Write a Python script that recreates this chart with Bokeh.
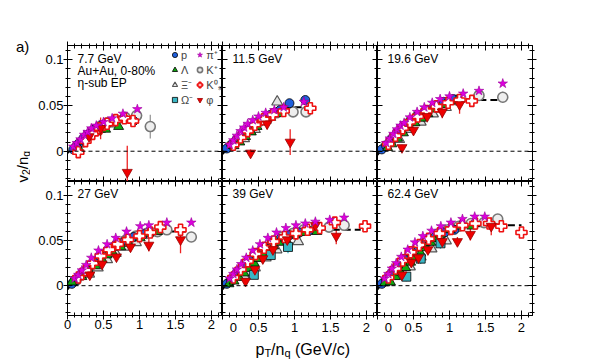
import numpy as np
from bokeh.plotting import figure
from bokeh.models import (Range1d, Span, Label, Legend, LegendItem, LinearAxis,
                          SingleIntervalTicker, CustomJSTickFormatter)
from bokeh.layouts import gridplot, row, column
from bokeh.embed import file_html
from bokeh.resources import INLINE

# ---------------- data ----------------
energies = ["7.7 GeV", "11.5 GeV", "19.6 GeV", "27 GeV", "39 GeV", "62.4 GeV"]

fit_x = [
    [0, 0.1, 0.2, 0.3, 0.4, 0.5, 0.6, 0.7, 0.8, 0.9, 1.0, 1.06],
    [0, 0.1, 0.2, 0.3, 0.4, 0.5, 0.6, 0.7, 0.8, 0.9, 1.0, 1.1],
    [0, 0.1, 0.2, 0.3, 0.4, 0.5, 0.6, 0.7, 0.8, 0.9, 1.0, 1.2, 1.4, 1.6, 1.7],
    [0, 0.1, 0.2, 0.3, 0.4, 0.5, 0.6, 0.7, 0.8, 0.9, 1.0, 1.2, 1.4, 1.6, 1.65],
    [0, 0.1, 0.2, 0.3, 0.4, 0.5, 0.6, 0.7, 0.8, 0.9, 1.0, 1.2, 1.4, 1.6, 1.8, 1.92],
    [0, 0.1, 0.2, 0.3, 0.4, 0.5, 0.6, 0.7, 0.8, 0.9, 1.0, 1.2, 1.4, 1.6, 1.8, 2.0],
]
fit_y = [
    [-0.002, 0.006, 0.013, 0.019, 0.024, 0.028, 0.031, 0.034, 0.036, 0.037, 0.037, 0.037],
    [-0.003, 0.005, 0.013, 0.020, 0.027, 0.033, 0.038, 0.042, 0.045, 0.047, 0.048, 0.048],
    [-0.004, 0.006, 0.015, 0.023, 0.030, 0.036, 0.041, 0.045, 0.048, 0.051, 0.053, 0.055, 0.056, 0.056, 0.056],
    [-0.004, 0.006, 0.015, 0.024, 0.032, 0.038, 0.044, 0.048, 0.052, 0.055, 0.057, 0.059, 0.060, 0.060, 0.060],
    [-0.004, 0.006, 0.016, 0.025, 0.033, 0.040, 0.045, 0.050, 0.053, 0.056, 0.058, 0.061, 0.062, 0.062, 0.062, 0.062],
    [-0.004, 0.006, 0.016, 0.026, 0.034, 0.041, 0.047, 0.052, 0.056, 0.059, 0.062, 0.065, 0.066, 0.067, 0.067, 0.067],
]

pion_x = [
    [0.08, 0.13, 0.18, 0.23, 0.28, 0.33, 0.40, 0.50, 0.62, 0.77, 0.97],
    [0.10, 0.15, 0.20, 0.25, 0.30, 0.35, 0.42, 0.50, 0.60, 0.72, 0.85, 1.13],
    [0.12, 0.17, 0.22, 0.27, 0.32, 0.37, 0.45, 0.55, 0.65, 0.76, 0.87, 1.00, 1.19, 1.41, 1.74],
    [0.10, 0.15, 0.20, 0.26, 0.33, 0.43, 0.55, 0.67, 0.82, 1.01, 1.13, 1.38, 1.72],
    [0.10, 0.15, 0.20, 0.26, 0.33, 0.42, 0.52, 0.63, 0.75, 0.88, 1.02, 1.15, 1.29, 1.49, 1.69],
    [0.10, 0.15, 0.20, 0.26, 0.33, 0.42, 0.52, 0.63, 0.75, 0.88, 1.02, 1.18, 1.35, 1.49],
]
pion_y = [
    [0.005, 0.009, 0.013, 0.018, 0.021, 0.025, 0.028, 0.032, 0.036, 0.041, 0.046],
    [0.007, 0.012, 0.017, 0.022, 0.026, 0.030, 0.034, 0.038, 0.042, 0.045, 0.048, 0.054],
    [0.009, 0.014, 0.019, 0.024, 0.028, 0.031, 0.037, 0.043, 0.048, 0.053, 0.057, 0.060, 0.063, 0.066, 0.074],
    [0.008, 0.012, 0.017, 0.023, 0.031, 0.039, 0.046, 0.053, 0.060, 0.066, 0.067, 0.070, 0.070],
    [0.008, 0.013, 0.018, 0.024, 0.031, 0.039, 0.046, 0.053, 0.059, 0.064, 0.067, 0.069, 0.071, 0.073, 0.0755],
    [0.008, 0.013, 0.019, 0.025, 0.032, 0.040, 0.048, 0.055, 0.061, 0.066, 0.070, 0.074, 0.0766, 0.0766],
]

kaon_x = [
    [0.12, 0.20, 0.28, 0.36, 0.45, 0.55, 0.67, 0.80, 0.96, 1.15],
    [0.12, 0.20, 0.30, 0.40, 0.50, 0.62, 0.75, 0.98, 1.16],
    [0.12, 0.20, 0.28, 0.37, 0.46, 0.56, 0.67, 0.80, 0.95, 1.10, 1.41, 1.74],
    [0.12, 0.20, 0.28, 0.37, 0.47, 0.57, 0.68, 0.80, 0.95, 1.10, 1.25, 1.38, 1.72],
    [0.12, 0.20, 0.28, 0.37, 0.47, 0.58, 0.70, 0.83, 0.98, 1.13, 1.30, 1.48, 1.69],
    [0.12, 0.20, 0.28, 0.37, 0.47, 0.58, 0.70, 0.83, 0.98, 1.13, 1.30, 1.48, 1.67],
]
kaon_y = [
    [0.004, 0.010, 0.017, 0.022, 0.027, 0.031, 0.034, 0.037, 0.039, 0.027],
    [0.006, 0.012, 0.019, 0.026, 0.032, 0.037, 0.042, 0.043, 0.043],
    [0.006, 0.013, 0.020, 0.027, 0.033, 0.039, 0.044, 0.049, 0.053, 0.056, 0.061, 0.059],
    [0.006, 0.012, 0.019, 0.026, 0.033, 0.039, 0.045, 0.050, 0.055, 0.058, 0.060, 0.062, 0.054],
    [0.006, 0.013, 0.020, 0.028, 0.035, 0.042, 0.048, 0.054, 0.058, 0.062, 0.064, 0.065, 0.067],
    [0.006, 0.013, 0.021, 0.029, 0.037, 0.044, 0.051, 0.057, 0.062, 0.066, 0.069, 0.070, 0.074],
]
kaon_err = [
    [0.001, 0.001, 0.001, 0.002, 0.002, 0.002, 0.003, 0.003, 0.005, 0.013],
    [0.001, 0.001, 0.001, 0.002, 0.002, 0.002, 0.003, 0.003, 0.004],
    [0.001, 0.001, 0.001, 0.001, 0.002, 0.002, 0.002, 0.002, 0.003, 0.003, 0.003, 0.006],
    [0.001, 0.001, 0.001, 0.001, 0.002, 0.002, 0.002, 0.002, 0.003, 0.003, 0.003, 0.003, 0.004],
    [0.001, 0.001, 0.001, 0.001, 0.002, 0.002, 0.002, 0.002, 0.003, 0.003, 0.003, 0.003, 0.004],
    [0.001, 0.001, 0.001, 0.001, 0.002, 0.002, 0.002, 0.002, 0.003, 0.003, 0.003, 0.003, 0.004],
]

k0s_x = [
    [0.15, 0.25, 0.35, 0.45, 0.55, 0.67, 0.79, 0.91],
    [0.15, 0.25, 0.35, 0.45, 0.57, 0.70, 0.85, 1.22],
    [0.15, 0.25, 0.35, 0.45, 0.56, 0.68, 0.82, 0.98, 1.14, 1.31],
    [0.15, 0.25, 0.35, 0.46, 0.58, 0.70, 0.84, 1.00, 1.15, 1.29, 1.57],
    [0.15, 0.25, 0.35, 0.46, 0.58, 0.71, 0.86, 1.02, 1.18, 1.35, 1.56, 1.98],
    [0.15, 0.25, 0.35, 0.46, 0.58, 0.71, 0.86, 1.02, 1.18, 1.36, 1.55, 1.72, 2.00],
]
k0s_y = [
    [-0.001, 0.011, 0.019, 0.025, 0.030, 0.034, 0.036, 0.033],
    [0.007, 0.015, 0.022, 0.029, 0.035, 0.040, 0.044, 0.047],
    [0.008, 0.017, 0.025, 0.032, 0.038, 0.044, 0.049, 0.053, 0.056, 0.055],
    [0.009, 0.017, 0.025, 0.033, 0.040, 0.046, 0.051, 0.055, 0.059, 0.065, 0.062],
    [0.009, 0.018, 0.027, 0.035, 0.042, 0.049, 0.054, 0.058, 0.062, 0.064, 0.070, 0.066],
    [0.009, 0.019, 0.028, 0.037, 0.045, 0.052, 0.058, 0.063, 0.067, 0.069, 0.069, 0.066, 0.059],
]

proton_x = [
    [0.08, 0.15, 0.22, 0.30, 0.38, 0.47, 0.56, 0.66, 0.78, 0.92],
    [0.06, 0.12, 0.20, 0.28, 0.37, 0.46, 0.56, 0.67, 0.80, 0.93, 1.15],
    [0.06, 0.12, 0.20, 0.28, 0.37, 0.46, 0.56, 0.67, 0.79, 0.92, 1.05],
    [0.06, 0.12, 0.20, 0.28, 0.37, 0.46, 0.56, 0.67, 0.79, 0.92, 1.06],
    [0.06, 0.12, 0.20, 0.28, 0.37, 0.47, 0.57, 0.68, 0.80, 0.93, 1.07, 1.20],
    [0.06, 0.12, 0.20, 0.28, 0.37, 0.47, 0.57, 0.68, 0.80, 0.93, 1.07],
]
proton_y = [
    [0.002, 0.008, 0.014, 0.019, 0.024, 0.028, 0.031, 0.034, 0.036, 0.033],
    [0.003, 0.007, 0.013, 0.019, 0.025, 0.030, 0.035, 0.040, 0.045, 0.0525, 0.056],
    [0.002, 0.006, 0.013, 0.020, 0.027, 0.033, 0.039, 0.044, 0.049, 0.054, 0.057],
    [0.002, 0.006, 0.012, 0.019, 0.026, 0.032, 0.038, 0.044, 0.049, 0.054, 0.057],
    [0.002, 0.006, 0.013, 0.020, 0.028, 0.035, 0.041, 0.047, 0.052, 0.056, 0.059, 0.061],
    [0.002, 0.006, 0.013, 0.021, 0.029, 0.036, 0.043, 0.049, 0.054, 0.059, 0.062],
]

lambda_x = [
    [0.15, 0.22, 0.30, 0.40, 0.53, 0.71],
    [0.16, 0.24, 0.32, 0.40, 0.48, 0.57, 0.67, 0.78],
    [0.14, 0.20, 0.28, 0.36, 0.44, 0.52, 0.61, 0.70, 0.80, 0.94, 1.10],
    [0.06, 0.20, 0.30, 0.39, 0.48, 0.55, 0.62, 0.74, 0.85, 1.01, 1.13, 1.25],
    [0.09, 0.16, 0.23, 0.30, 0.37, 0.44, 0.50, 0.57, 0.64, 0.71, 0.78, 0.88, 1.01, 1.15, 1.31],
    [0.10, 0.18, 0.25, 0.32, 0.39, 0.46, 0.53, 0.60, 0.67, 0.74, 0.81, 0.875, 1.01, 1.15, 1.31],
]
lambda_y = [
    [0.004, 0.011, 0.016, 0.021, 0.024, 0.027],
    [0.006, 0.010, 0.016, 0.021, 0.027, 0.032, 0.037, 0.041],
    [0.004, 0.008, 0.014, 0.020, 0.026, 0.031, 0.036, 0.041, 0.046, 0.051, 0.055],
    [0.004, 0.010, 0.016, 0.022, 0.029, 0.034, 0.038, 0.043, 0.047, 0.053, 0.058, 0.060],
    [0.002, 0.005, 0.009, 0.014, 0.019, 0.025, 0.030, 0.035, 0.040, 0.044, 0.048, 0.052, 0.057, 0.059, 0.060],
    [0.003, 0.004, 0.010, 0.015, 0.020, 0.026, 0.031, 0.036, 0.042, 0.048, 0.052, 0.057, 0.062, 0.066, 0.066],
]

xi_x = [
    [0.30, 0.45, 0.62],
    [0.30, 0.45, 0.60, 0.76],
    [0.30, 0.45, 0.60, 0.77, 0.95],
    [0.30, 0.42, 0.55, 0.67, 0.80, 0.95],
    [0.30, 0.45, 0.60, 0.75, 1.05],
    [0.30, 0.45, 0.60, 0.75, 0.95],
]
xi_y = [
    [0.017, 0.024, 0.030],
    [0.014, 0.024, 0.034, 0.054],
    [0.013, 0.024, 0.032, 0.041, 0.048],
    [0.013, 0.020, 0.029, 0.036, 0.043, 0.048],
    [0.011, 0.020, 0.031, 0.040, 0.049],
    [0.011, 0.021, 0.032, 0.041, 0.050],
]

omega_x = [[], [], [], [], [0.435, 0.67, 0.91], [0.40, 0.60, 0.875]]
omega_y = [[], [], [], [], [0.012, 0.034, 0.043], [0.010, 0.030, 0.047]]
omega_err = [[], [], [], [], [0.004, 0.005, 0.007], [0.005, 0.006, 0.006]]

phi_x = [
    [0.30, 0.46, 0.83],
    [0.39, 0.62, 0.94],
    [0.34, 0.50, 0.69, 0.90, 1.14],
    [0.31, 0.48, 0.68, 0.875, 1.13, 1.57],
    [0.32, 0.45, 0.56, 0.70, 0.90, 1.29, 1.58],
    [0.34, 0.47, 0.57, 0.70, 0.90, 1.11, 1.29, 1.58],
]
phi_y = [
    [0.016, 0.025, -0.023],
    [-0.002, 0.030, 0.010],
    [0.004, 0.023, 0.038, 0.043, 0.051],
    [0.012, 0.024, 0.032, 0.043, 0.045, 0.051],
    [0.005, 0.018, 0.030, 0.040, 0.051, 0.067, 0.055],
    [0.012, 0.026, 0.031, 0.040, 0.049, 0.049, 0.057, 0.066],
]
phi_err = [
    [0.006, 0.012, 0.029],
    [0.004, 0.006, 0.014],
    [0.003, 0.004, 0.005, 0.007, 0.010],
    [0.003, 0.003, 0.004, 0.005, 0.007, 0.015],
    [0.003, 0.003, 0.004, 0.004, 0.005, 0.006, 0.009],
    [0.003, 0.003, 0.003, 0.004, 0.004, 0.005, 0.007, 0.010],
]

# ---------------- styling / geometry ----------------
FONT = "Liberation Sans"
XMAX = 2.153
YMIN, YMAX = -0.0331, 0.1156
FW, FH = 155, 136
LEFT_STRIP = 30
TOP = 45
BOTTOM = 20
XTITLE_H = 24


def px_x(px):
    return px / FW * XMAX


def px_y(px):  # pixels measured down from the frame top
    return YMAX - px / FH * (YMAX - YMIN)


LABEL_FMT = "return Number(tick.toFixed(3)).toString();"
SHIFTZERO_FMT = ("if (Math.abs(tick) < 1e-9) { return '\\u20070'; } "
                 "return Number(tick.toFixed(3)).toString();")
EMPTY_FMT = "return '';"


def add_axis(p, side, interval, fmt, outer):
    ax = LinearAxis(ticker=SingleIntervalTicker(interval=interval, num_minor_ticks=5),
                    formatter=CustomJSTickFormatter(code=fmt))
    ax.axis_line_color = "black"
    ax.axis_line_width = 1
    ax.major_tick_line_color = "black"
    ax.minor_tick_line_color = "black"
    ax.major_tick_in = 5
    ax.major_tick_out = 4 if outer else 0
    ax.minor_tick_in = 3
    ax.minor_tick_out = 2 if outer else 0
    ax.major_label_standoff = 0
    if fmt == EMPTY_FMT:
        ax.major_label_text_font_size = "0px"
    else:
        ax.major_label_text_font = FONT
        ax.major_label_text_font_size = "13px"
        ax.major_label_text_color = "black"
    p.add_layout(ax, side)


species = [
    # name, xs, ys, errs, marker, size, fill, line, lw, errcolor
    ("K⁺", kaon_x, kaon_y, kaon_err, "circle", 10, "#eeeeee", "#777777", 1.6, "#999999"),
    ("Ξ⁻", xi_x, xi_y, None, "triangle", 11, "#e4e4e4", "#555555", 1.2, None),
    ("p", proton_x, proton_y, None, "circle", 9, "#1f5fdc", "#000000", 0.8, None),
    ("Λ", lambda_x, lambda_y, None, "triangle", 10, "#0ea80e", "#000000", 0.8, None),
    ("Ω⁻", omega_x, omega_y, omega_err, "square", 9, "#3ab6c4", "#000000", 0.8, "#3ab6c4"),
    ("K⁰ₛ", k0s_x, k0s_y, None, "plus", 11, "#ffffff", "#ee1111", 1.6, None),
    ("φ", phi_x, phi_y, phi_err, "inverted_triangle", 10, "#ee0000", "#990000", 0.8, "#ee2222"),
    ("π⁺", pion_x, pion_y, None, "star", 10, "#dd00dd", "#990099", 0.6, None),
]

panels = []
for i in range(6):
    r, c = divmod(i, 3)
    left = 37 if c == 0 else 0
    right = 6 if c == 2 else 0
    top = TOP if r == 0 else 0
    bottom = BOTTOM if r == 1 else 0
    p = figure(width=FW + left + right, height=FH + top + bottom,
               x_range=Range1d(0, XMAX), y_range=Range1d(YMIN, YMAX),
               output_backend="svg", toolbar_location=None,
               x_axis_location=None, y_axis_location=None,
               min_border_left=left, min_border_right=right,
               min_border_top=top, min_border_bottom=bottom)
    p.grid.visible = False
    p.outline_line_color = "black"
    p.background_fill_color = "white"
    p.border_fill_color = "white"

    if r == 1:
        add_axis(p, "below", 0.5, LABEL_FMT if c == 0 else SHIFTZERO_FMT, True)
    else:
        add_axis(p, "below", 0.5, EMPTY_FMT, False)
    add_axis(p, "above", 0.5, EMPTY_FMT, r == 0)
    add_axis(p, "left", 0.05, LABEL_FMT if c == 0 else EMPTY_FMT, c == 0)
    add_axis(p, "right", 0.05, EMPTY_FMT, c == 2)

    p.add_layout(Span(location=0, dimension="width", line_color="black",
                      line_dash="4 3", line_width=1))

    for name, xs, ys, errs, marker, size, fill, line, lw, ecol in species:
        if errs is None or len(xs[i]) == 0:
            continue
        x = np.array(xs[i]); y = np.array(ys[i]); e = np.array(errs[i])
        p.segment(x0=x, y0=y - e, x1=x, y1=y + e, line_color=ecol, line_width=1.3)

    p.line(fit_x[i], fit_y[i], line_color="black", line_width=2, line_dash="7 4")

    legend_renderers = {}
    for name, xs, ys, errs, marker, size, fill, line, lw, ecol in species:
        rr = p.scatter(xs[i], ys[i], marker=marker, size=size, fill_color=fill,
                       line_color=line, line_width=lw)
        legend_renderers[name] = rr

    p.add_layout(Label(x=px_x(10), y=px_y(20), text=energies[i], text_font=FONT,
                       text_font_size="12px", text_color="black"))
    if i == 0:
        p.add_layout(Label(x=px_x(10), y=px_y(32), text="Au+Au,  0-80%", text_font=FONT,
                           text_font_size="12px", text_color="black"))
        p.add_layout(Label(x=px_x(10), y=px_y(44), text="η-sub EP", text_font=FONT,
                           text_font_size="12px", text_color="black"))
        # legend-only sample for species without points in this panel
        for name, xs, ys, errs, marker, size, fill, line, lw, ecol in species:
            if len(xs[i]) == 0:
                legend_renderers[name] = p.scatter([np.nan], [np.nan], marker=marker, size=size,
                                                   fill_color=fill, line_color=line, line_width=lw)
        order = ["p", "Λ", "Ξ⁻", "Ω⁻", "π⁺", "K⁺", "K⁰ₛ", "φ"]
        legend = Legend(items=[LegendItem(label=n, renderers=[legend_renderers[n]]) for n in order],
                        ncols=2, location=(101, 74), background_fill_alpha=0,
                        border_line_alpha=0, label_text_font=FONT, label_text_font_size="11px",
                        label_text_line_height=1.0,
                        glyph_width=13, glyph_height=13, label_standoff=0, spacing=0,
                        padding=0, margin=0, label_height=12, label_width=8)
        p.add_layout(legend)
    panels.append(p)

# y-title strip (data units = page pixels)
GRID_H = TOP + 2 * FH + BOTTOM
TOTAL_H = GRID_H + XTITLE_H
ylab = figure(width=LEFT_STRIP, height=TOTAL_H, x_range=Range1d(0, LEFT_STRIP),
              y_range=Range1d(TOTAL_H, 0), output_backend="svg", toolbar_location=None,
              x_axis_location=None, y_axis_location=None,
              min_border_left=0, min_border_right=0, min_border_top=0, min_border_bottom=0)
ylab.grid.visible = False
ylab.outline_line_color = None
ylab.add_layout(Label(x=15.5, y=54, text="a)", text_font=FONT, text_font_size="15px",
                      text_color="black"))
ypieces = [("v", 22, 182, 15), ("2", 25, 174.5, 10.5), ("/n", 22, 168.7, 15), ("q", 25, 156.2, 10.5)]
for txt, xx, yy, fs in ypieces:
    ylab.add_layout(Label(x=xx, y=yy, text=txt, angle=np.pi / 2, text_font=FONT,
                          text_font_size=f"{fs}px", text_color="black",
                          text_baseline="alphabetic", text_align="left"))

# x-title strip (data units = pixels inside the strip)
GRID_W = (FW + 37) + FW + (FW + 6)
xlab = figure(width=GRID_W, height=XTITLE_H, x_range=Range1d(0, GRID_W),
              y_range=Range1d(XTITLE_H, 0), output_backend="svg", toolbar_location=None,
              x_axis_location=None, y_axis_location=None,
              min_border_left=0, min_border_right=0, min_border_top=0, min_border_bottom=0)
xlab.grid.visible = False
xlab.outline_line_color = None
x0 = 255 - LEFT_STRIP
yb = 12.0
xpieces = [("p", 0.0, yb, 16), ("T", 8.9, yb + 3.5, 11), ("/n", 15.6, yb, 16),
           ("q", 28.9, yb + 3.5, 11), ("(GeV/c)", 39.4, yb, 16)]
for txt, off, yy, fs in xpieces:
    xlab.add_layout(Label(x=x0 + off, y=yy, text=txt, text_font=FONT,
                          text_font_size=f"{fs}px", text_color="black",
                          text_baseline="alphabetic"))

grid = gridplot([panels[0:3], panels[3:6]], toolbar_location=None)
layout = row(ylab, column(grid, xlab))

open("out.html", "w").write(file_html(layout, INLINE))
